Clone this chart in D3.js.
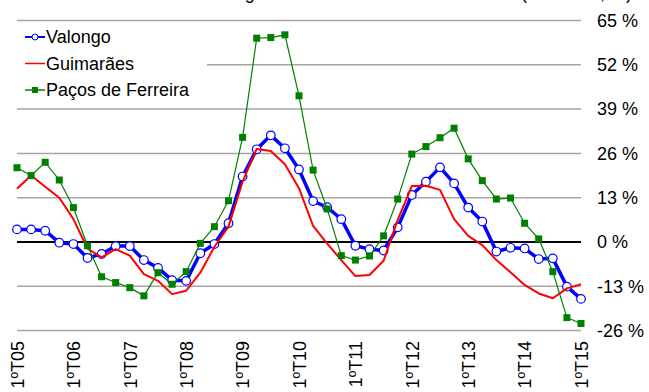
<!DOCTYPE html>
<html><head><meta charset="utf-8">
<script src="https://cdn.jsdelivr.net/npm/d3@7/dist/d3.min.js"></script>
<style>html,body{margin:0;padding:0;background:#fff;overflow:hidden}svg{display:block;font-family:"Liberation Sans",Arial,sans-serif}</style>
</head><body>
<svg id="c" width="649" height="392"></svg>
<script>
const title = "Taxa homóloga das vendas de imóveis usados (média 4T, %)";
const quarters = d3.range(41).map(i => "1ºT" + String(5 + Math.floor(i/4)).padStart(2,"0"));
const tickLabels = ["1ºT05","1ºT06","1ºT07","1ºT08","1ºT09","1ºT10","1ºT11","1ºT12","1ºT13","1ºT14","1ºT15"];
const yTicks = [-26,-13,0,13,26,39,52,65];
const seriesNames = ["Valongo","Guimarães","Paços de Ferreira"];
const valongo = [3.7,3.7,3.3,-0.2,-0.6,-4.7,-3.5,-1.2,-1.2,-5.3,-7.6,-11.2,-11.4,-3.3,-0.6,5.5,19.2,27.2,31.3,27.5,21.3,12.0,10.2,6.7,-1.1,-2.1,-2.5,4.3,13.8,17.7,21.9,17.2,10.1,6.0,-2.8,-1.7,-1.9,-5.0,-4.8,-13.1,-16.7];
const guimaraes = [15.6,19.5,16.2,13.0,6.7,-1.9,-4.5,-2.1,-4.0,-9.4,-11.4,-15.3,-14.3,-9.0,-1.4,4.5,17.7,27.3,26.7,22.8,15.8,4.7,-0.5,-5.3,-10.0,-9.7,-5.5,6.5,16.4,16.5,15.3,6.7,1.8,-0.9,-5.3,-8.9,-12.6,-15.1,-16.5,-13.6,-12.4];
const pacos = [21.8,19.5,23.4,18.2,10.1,-1.1,-10.2,-11.9,-13.4,-15.8,-9.0,-12.4,-8.7,-0.4,4.5,12.1,30.7,59.8,60.0,60.8,42.9,21.1,9.7,-4.0,-5.3,-4.1,1.8,12.6,25.8,28.0,30.6,33.4,24.4,18.0,12.6,12.9,5.5,0.9,-8.7,-22.2,-23.9];

const svg = d3.select("#c");
const x = d3.scalePoint().domain(quarters.map((q,i)=>i)).range([17, 581]);
const y = d3.scaleLinear().domain([-26, 65]).range([330.6, 20.5]);

// title (mostly above the visible area)
svg.append("text").attr("x", 632).attr("y", -1).attr("text-anchor","end")
  .attr("font-size", 18).attr("fill","#000").text(title);

// gridlines
svg.append("g").selectAll("line").data(yTicks.filter(d=>d!==0)).join("line")
  .attr("x1", 17).attr("x2", 581).attr("y1", d=>y(d)).attr("y2", d=>y(d))
  .attr("stroke", "#a6a6a6").attr("stroke-width", 1.5);

// right axis labels
const yAxis = d3.axisRight(y).tickValues(yTicks).tickSize(0).tickPadding(0).tickFormat(d => d + " %");
const ya = svg.append("g").attr("transform","translate(597,0)").call(yAxis);
ya.select(".domain").remove();
ya.selectAll("text").attr("font-size", 18).attr("font-family","Liberation Sans, Arial, sans-serif").attr("fill","#000").attr("x",0);

// bottom labels
const xAxis = d3.axisBottom(x).tickValues(d3.range(0,41,4)).tickSize(0).tickFormat(i => tickLabels[i/4]);
const xa = svg.append("g").attr("transform","translate(0,341)").call(xAxis);
xa.select(".domain").remove();
xa.selectAll("text").attr("font-size", 18).attr("font-family","Liberation Sans, Arial, sans-serif").attr("fill","#000")
  .attr("transform","rotate(-90)").attr("text-anchor","end").attr("x",0).attr("y",0).attr("dy","0.35em");

// legend background
const lg = svg.append("g");
lg.append("rect").attr("x", 17).attr("y", 23).attr("width", 190).attr("height", 83).attr("fill","#fff");

// zero line
svg.append("line").attr("x1",17).attr("x2",581).attr("y1",y(0)).attr("y2",y(0)).attr("stroke","#000").attr("stroke-width",2);

const line = d3.line().x((d,i)=>x(i)).y(d=>y(d));

// Valongo
svg.append("path").datum(valongo).attr("d", line).attr("fill","none").attr("stroke","#0000ff").attr("stroke-width",3.5).attr("stroke-linejoin","round");
svg.append("g").selectAll("circle").data(valongo).join("circle")
  .attr("cx",(d,i)=>x(i)).attr("cy",d=>y(d)).attr("r",4.3).attr("fill","#fff").attr("stroke","#0000ff").attr("stroke-width",1.2);
// Guimarães
svg.append("path").datum(guimaraes).attr("d", line).attr("fill","none").attr("stroke","#ff0000").attr("stroke-width",2).attr("stroke-linejoin","round");
// Paços de Ferreira
svg.append("path").datum(pacos).attr("d", line).attr("fill","none").attr("stroke","#008000").attr("stroke-width",1.2);
svg.append("g").selectAll("rect").data(pacos).join("rect")
  .attr("x",(d,i)=>x(i)-3.5).attr("y",d=>y(d)-3.5).attr("width",7).attr("height",7).attr("fill","#008000");

// legend entries
const ly = [37, 63.5, 90];
lg.append("line").attr("x1",25).attr("x2",45).attr("y1",ly[0]).attr("y2",ly[0]).attr("stroke","#0000ff").attr("stroke-width",2);
lg.append("circle").attr("cx",35).attr("cy",ly[0]).attr("r",3).attr("fill","#fff").attr("stroke","#0000ff").attr("stroke-width",1);
lg.append("line").attr("x1",25).attr("x2",45).attr("y1",ly[1]).attr("y2",ly[1]).attr("stroke","#ff0000").attr("stroke-width",1.5);
lg.append("line").attr("x1",25).attr("x2",45).attr("y1",ly[2]).attr("y2",ly[2]).attr("stroke","#008000").attr("stroke-width",1.5);
lg.append("rect").attr("x",32).attr("y",ly[2]-3).attr("width",6).attr("height",6).attr("fill","#008000");
lg.selectAll("text").data(seriesNames).join("text")
  .attr("x",46).attr("y",(d,i)=>ly[i]).attr("dy","0.35em").attr("font-size",18).attr("fill","#000").text(d=>d);
</script>
</body></html>
